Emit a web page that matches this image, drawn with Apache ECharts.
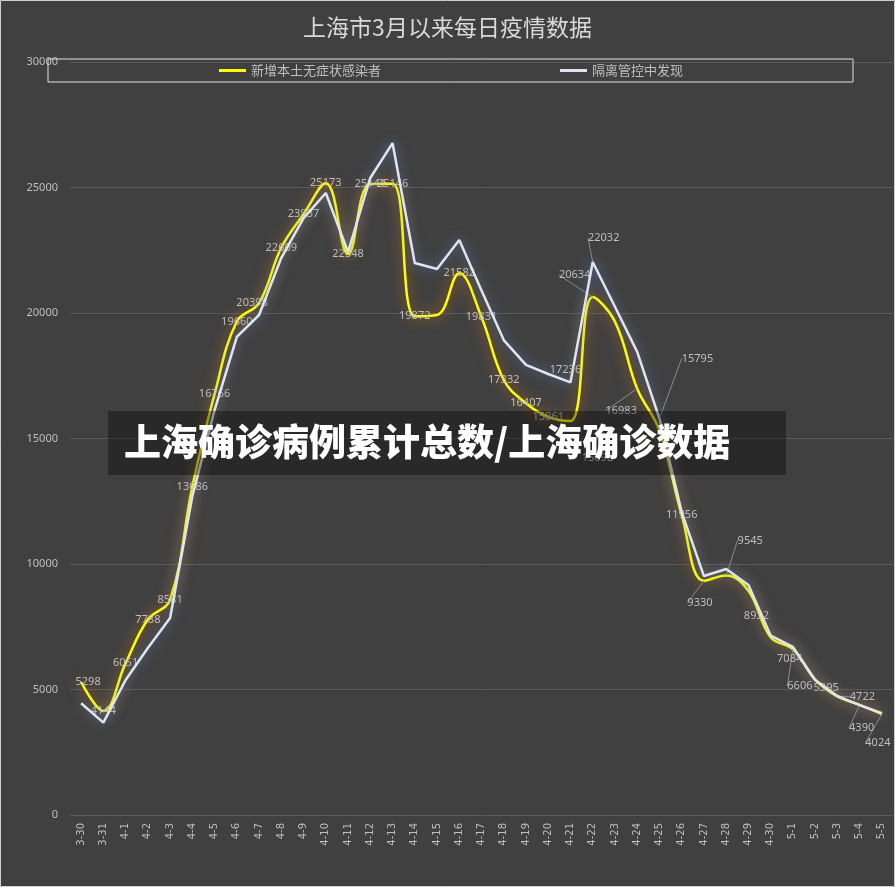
<!DOCTYPE html>
<html>
<head>
<meta charset="utf-8">
<script src="https://cdn.jsdelivr.net/npm/echarts@6/dist/echarts.min.js"></script>
<style>
  html, body { margin: 0; padding: 0; background: #404040; }
  #chart { width: 895px; height: 887px; }
</style>
</head>
<body>
<div id="chart"></div>
<script>
// 日期
const days = ['3-30', '3-31',
  '4-1', '4-2', '4-3', '4-4', '4-5', '4-6', '4-7', '4-8', '4-9', '4-10',
  '4-11', '4-12', '4-13', '4-14', '4-15', '4-16', '4-17', '4-18', '4-19', '4-20',
  '4-21', '4-22', '4-23', '4-24', '4-25', '4-26', '4-27', '4-28', '4-29', '4-30',
  '5-1', '5-2', '5-3', '5-4', '5-5']

// 新增本土无症状感染者
const asymptomatic = [5298, 4144,
  6051, 7788, 8581, 13086, 16766, 19660, 20398, 22609, 23937, 25173,
  22348, 25141, 25146, 19872, 19923, 21582, 19831, 17332, 16407, 15861,
  15698, 20634, 19657, 16983, 15319, 11956, 9330, 9545, 8932, 7084,
  6606, 5395, 4722, 4390, 4024]

// 隔离管控中发现
const quarantined = [4450, 3680,
  5380, 6650, 7850, 12700, 16130, 19050, 19920, 22200, 23780, 24780,
  22430, 25380, 26770, 21990, 21750, 22910, 20900, 18920, 17930, 17570,
  17236, 22032, 20250, 18450, 15795, 12070, 9520, 9800, 9160, 7150,
  6700, 5380, 4740, 4380, 4060]

const yTicks = [0, 5000, 10000, 15000, 20000, 25000, 30000]

// 哪些点显示标签
const yellowNoLabel = [16, 24, 26]
const whiteLabel = [22, 23, 26]
const leaderYellow = [23, 25, 28, 29, 32, 34, 35, 36]
const leaderWhite = [23, 26]

// 标签偏移 [dx, dy]
const yellowShift = {
  0: [7, 0], 8: [-7, 0], 22: [27, 37], 23: [-18, -22], 25: [-16, 22],
  28: [-4, 22], 29: [24, -35], 30: [8, 25], 31: [19, 22], 32: [7, 37],
  33: [11, 8], 34: [25, 0], 35: [2, 23], 36: [-4, 29]
}
const whiteShift = { 22: [-5, -13], 23: [11, -24], 26: [38, -60] }

const chart = echarts.init(document.getElementById('chart'))

const labelStyle = {
  position: 'inside',
  color: '#bfbfbf',
  fontSize: 11,
  fontFamily: 'Noto Sans'
}

const yellowData = asymptomatic.map((v, i) => ({
  value: v,
  label: { show: !yellowNoLabel.includes(i) },
  labelLine: { show: leaderYellow.includes(i) }
}))

const whiteData = quarantined.map((v, i) => ({
  value: v,
  label: { show: whiteLabel.includes(i) },
  labelLine: { show: leaderWhite.includes(i) }
}))

const option = {
  backgroundColor: '#404040',
  animation: false,
  title: {
    text: '上海市3月以来每日疫情数据',
    left: 'center',
    top: 11,
    textStyle: {
      color: '#d9d9d9',
      fontSize: 23,
      fontWeight: 'normal',
      fontFamily: 'Noto Sans CJK SC'
    }
  },
  legend: {
    left: 48,
    top: 59,
    padding: [5, 170, 5, 171],
    itemGap: 179,
    itemWidth: 27,
    itemHeight: 3,
    icon: 'rect',
    borderColor: '#e0e0e0',
    borderWidth: 1,
    textStyle: { color: '#bfbfbf', fontSize: 13, fontFamily: 'Noto Sans CJK SC' },
    data: ['新增本土无症状感染者', '隔离管控中发现']
  },
  grid: { left: 70, right: 2, top: 62, bottom: 72 },
  xAxis: {
    type: 'category',
    data: days,
    boundaryGap: true,
    axisLine: { show: false },
    axisTick: { show: false },
    axisLabel: {
      rotate: 90,
      interval: 0,
      margin: 8,
      color: '#bfbfbf',
      fontSize: 10,
      fontFamily: 'DejaVu Sans'
    }
  },
  yAxis: {
    type: 'value',
    min: yTicks[0],
    max: yTicks[yTicks.length - 1],
    interval: 5000,
    axisLine: { show: false },
    axisTick: { show: false },
    splitLine: { lineStyle: { color: '#595959', width: 1 } },
    axisLabel: {
      color: '#bfbfbf',
      fontSize: 11,
      margin: 12,
      fontFamily: 'Noto Sans',
      formatter: (v) => String(v)
    }
  },
  labelLayout: function (params) {
    const map = params.seriesIndex === 0 ? yellowShift : whiteShift
    const s = map[params.dataIndex]
    if (!s) return {}
    return { dx: s[0], dy: s[1] }
  },
  series: [
    {
      name: '新增本土无症状感染者',
      type: 'line',
      smooth: 0.4,
      data: yellowData,
      symbol: 'circle',
      symbolSize: 0,
      showSymbol: true,
      itemStyle: { color: '#ffff00' },
      lineStyle: {
        color: '#ffff00',
        width: 2.5,
        shadowColor: 'rgba(255, 140, 0, 0.8)',
        shadowBlur: 14
      },
      label: labelStyle,
      labelLine: { lineStyle: { color: '#8c8c8c', width: 1 } },
      z: 2
    },
    {
      name: '隔离管控中发现',
      type: 'line',
      data: whiteData,
      symbol: 'circle',
      symbolSize: 0,
      showSymbol: true,
      itemStyle: { color: '#dfe5f0' },
      lineStyle: {
        color: '#dfe5f0',
        width: 2.5,
        shadowColor: 'rgba(100, 140, 210, 0.8)',
        shadowBlur: 12
      },
      label: labelStyle,
      labelLine: { lineStyle: { color: '#8c8c8c', width: 1 } },
      z: 3
    }
  ],
  graphic: [
    {
      type: 'rect',
      z: 100,
      shape: { x: 108, y: 411, width: 678, height: 64 },
      style: { fill: 'rgba(0, 0, 0, 0.36)' }
    },
    {
      type: 'text',
      z: 101,
      x: 124,
      y: 442,
      style: {
        text: '上海确诊病例累计总数/上海确诊数据',
        fill: '#ffffff',
        font: '900 37px "Noto Sans CJK SC"',
        textVerticalAlign: 'middle'
      }
    },
    {
      type: 'rect',
      z: 100,
      silent: true,
      shape: { x: 0.5, y: 0.5, width: 894, height: 886 },
      style: { fill: 'none', stroke: '#d0d0d0', lineWidth: 1 }
    }
  ]
}

chart.setOption(option)
window.addEventListener('resize', () => chart.resize())
</script>
</body>
</html>
